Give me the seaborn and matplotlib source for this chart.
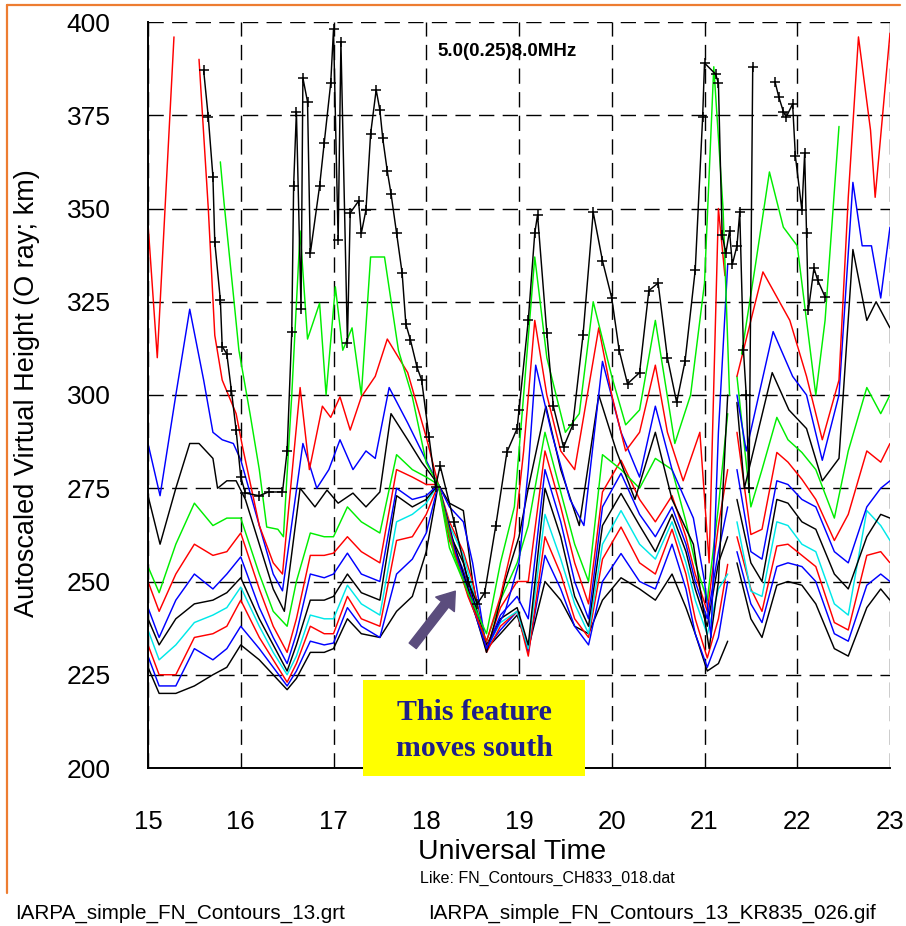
import numpy as np
import pandas as pd
import matplotlib
matplotlib.use("Agg")
import matplotlib.pyplot as plt
import seaborn as sns
from matplotlib import font_manager as fm
from matplotlib.patches import Rectangle, FancyArrowPatch
from matplotlib.lines import Line2D
from matplotlib.ticker import MultipleLocator

nan = float("nan")

# ---------------- data ----------------
FREQS = ["5.00", "5.25", "5.50", "5.75", "6.00", "6.25", "6.50", "6.75",
         "7.00", "7.25", "7.50", "7.75", "8.00"]
COLORS = ["#000000", "#0000ff", "#ff0000", "#00e8e8", "#000000", "#0000ff",
          "#ff0000", "#00ee00", "#000000", "#0000ff", "#ff0000", "#00ee00",
          "#000000"]

# shared hour grid for the eight lower contours
HOURS_LOW = [15.0, 15.12, 15.3, 15.5, 15.7, 15.85, 16.0, 16.2, 16.35, 16.5,
             16.6, 16.75, 16.9, 17.0, 17.15, 17.3, 17.5, 17.68, 17.85, 18.0,
             18.13, 18.25, 18.4, 18.5, 18.65, 18.8, 18.98, 19.1, 19.28, 19.45,
             19.6, 19.75, 19.9, 20.1, 20.3, 20.47, 20.65, 20.8, 20.9, 21.03,
             21.15, 21.25, 21.3, 21.35, 21.5, 21.62, 21.78, 21.9, 22.05, 22.2,
             22.4, 22.55, 22.75, 22.9, 23.0]

H500 = [227, 220, 220, 222, 225, 227, 233, 229, 225, 221, 224, 231, 231, 232, 240, 236, 235, 242, 246, 258,
        276, 271, 269, 250, 232, 236, 241, 232, 250, 245, 238, 236, 245, 251, 248, 245, 252, 243, 236, 226,
        228, 234, nan, 255, 240, 235, 249, 250, 249, 244, 232, 230, 243, 248, 245]
H525 = [230, 222, 222, 232, 229, 232, 238, 232, 227, 222, 226, 234, 233, 233.5, 243, 238, 235, 252, 256, 263,
        276, 270, 266, 255, 232, 237, 242, 231, 257, 248, 238, 233, 250, 257.5, 250, 248, 260, 248, 236, 227,
        235, 250, nan, 258, 244, 239, 254, 255, 254, 250, 236, 234, 249, 252, 250]
H550 = [233, 225, 225, 235, 236, 238, 245, 235, 229, 223, 228, 238, 236, 236, 246, 240, 238, 261, 262, 268,
        276, 266, 258, 250, 231, 238, 242, 230, 262, 252, 240, 235, 256, 264.6, 255, 252, 264, 252, 240, 229.5,
        240, 254.6, nan, 262, 248, 242, 259.5, 260, 257, 254, 239, 237, 257, 258, 255]
H575 = [237, 229, 233, 239, 241, 243, 248.5, 238, 231, 225, 230, 241, 240, 240, 249, 244, 241, 266, 268, 271,
        276, 265, 257, 248, 232, 239, 242, 232, 268, 256, 244, 236, 260, 269, 260, 256, 266, 255, 245, 235.8,
        248, 252, nan, 266, 247.4, 246, 266, 265, 260, 258, 244, 241, 269, 265, 261]
H600 = [240, 233, 240, 244, 245, 247, 251, 240, 233, 226, 233, 245, 245, 246, 252, 247, 245, 273, 270, 272,
        276, 263, 255, 246, 233, 240, 243, 233, 275, 262, 246, 238, 265, 273.6, 265, 258, 268, 258, 248, 238,
        255, 262, nan, 272, 255, 250, 272, 271, 266, 264, 252, 248, 262, 268, 267]
H625 = [243, 235, 245, 252, 248, 252, 256.6, 243, 235, 228, 236, 252, 251, 252, 257.6, 252, 250, 275, 272, 273,
        276, 262, 253, 245, 232, 241, 246, 240, 280, 266, 250, 240, 270, 279, 268, 262, 270, 260, 250, 240,
        258, 270, nan, 280, 258, 256, 277, 276, 272, 270, 258, 255, 270, 275, 277]
H650 = [250, 242, 252, 260, 257, 258, 263, 248, 238, 231, 240, 257, 257, 257.6, 262, 258, 255, 280, 278, 276,
        276, 261, 252, 244, 232, 243, 250, 250, 285, 270, 255, 244, 274, 282.5, 272, 266, 273, 262, 252, 242,
        265, 280, nan, 290, 262.6, 264, 284.6, 282, 277.4, 272, 261, 268, 285, 282, 287]
H675 = [254, 247, 260, 271, 265, 267, 267, 252, 242, 238, 250, 263, 262, 262, 270, 266, 263, 284, 280, 278,
        276, 259, 250, 243, 234, 245, 255, 265, 290, 274, 260, 250, 284, 280, 275, 283, 280, 266, 255, 245,
        270, 295, nan, 305, 270, 280, 294, 288, 284.6, 280, 267, 285, 302, 295, 300]

T700 = [15.0, 15.13, 15.3, 15.45, 15.55, 15.7, 15.75, 15.85, 15.95, 16.05, 16.2, 16.35, 16.47, 16.64, 16.8,
        16.93, 17.05, 17.21, 17.35, 17.5, 17.62, 17.8, 17.95, 18.13, 18.3, 18.45, 18.65, 18.75, 18.85, 19.0,
        19.1, 19.29, 19.45, 19.65, 19.86, 20.05, 20.25, 20.47, 20.65, 20.88, 21.05, 21.15, 21.25, 21.3, 21.35,
        21.43, 21.73, 21.91, 22.1, 22.27, 22.45, 22.6, 22.75, 22.85, 23.0]
H700 = [273, 260, 275, 287, 287, 283, 275, 277, 277, 272, 260, 248, 242, 275, 270,
        274.5, 271, 273.7, 270, 274, 295, 288, 282, 276, 260, 248, 231, 240, 250, 262,
        275, 297, 280, 265, 300, 285, 272, 290, 272, 260, 232, 250, 300, nan, 298,
        275, 306, 296, 291, 277, 283, 339, 320, 325, 318]

T725 = [15.0, 15.13, 15.3, 15.45, 15.6, 15.7, 15.8, 15.92, 16.0, 16.2, 16.35, 16.45, 16.67, 16.82, 16.95,
        17.07, 17.21, 17.35, 17.45, 17.6, 17.8, 17.98, 18.13, 18.3, 18.45, 18.65, 18.85, 19.0, 19.1, 19.18,
        19.35, 19.55, 19.7, 19.9, 20.1, 20.3, 20.47, 20.65, 20.88, 21.0, 21.07, 21.15, 21.25, 21.3, 21.35,
        21.45, 21.74, 21.95, 22.1, 22.27, 22.45, 22.6, 22.7, 22.8, 22.9, 23.0]
H725 = [287, 273, 300, 323, 304, 290, 288, 287, 282.6, 265, 252, 247.5, 287, 275, 280,
        288, 280, 285, 283, 302, 292.5, 283.4, 276, 259, 247, 232, 242, 255, 280, 308,
        290, 272, 265, 309, 290, 278, 297, 280, 267, 250, 235, 290, 335, nan, 300,
        285, 317, 305, 300, 282.5, 300, 357, 340, 340, 326, 345]

T750 = [15.0, 15.1, 15.28, 15.4, 15.55, 15.65, 15.72, 15.8, 15.95, 16.02, 16.2, 16.35, 16.45, 16.64, 16.74,
        16.88, 16.97, 17.07, 17.18, 17.3, 17.45, 17.58, 17.8, 18.0, 18.13, 18.3, 18.45, 18.65, 18.8, 18.95,
        19.05, 19.17, 19.3, 19.45, 19.6, 19.86, 20.0, 20.15, 20.3, 20.47, 20.6, 20.77, 20.95, 21.05, 21.15,
        21.22, 21.3, 21.35, 21.5, 21.63, 21.92, 22.1, 22.27, 22.45, 22.55, 22.66, 22.79, 22.84, 23.0]
H750 = [346, 310, 396, nan, 390, 350, 316, 304, 295, 286, 265, 255, 252, 302, 280,
        297, 294, 299.5, 290.6, 299.5, 305, 315, 306, 288.7, 276, 258, 246, 234, 246, 262,
        285, 320, 300, 285, 280, 318, 300, 285, 290, 308, 290, 277, 290, 255, 350,
        332, nan, 305, 320, 333, 320, 305, 288, 304, 353, 396, 371, 353, 397]

T775 = [15.78, 15.82, 15.92, 15.98, 16.1, 16.2, 16.28, 16.4, 16.46, 16.55, 16.64, 16.72, 16.85, 16.92, 17.02,
        17.1, 17.2, 17.3, 17.4, 17.55, 17.7, 17.85, 18.0, 18.13, 18.3, 18.45, 18.65, 18.8, 18.95, 19.05,
        19.17, 19.3, 19.5, 19.65, 19.8, 20.0, 20.15, 20.3, 20.47, 20.68, 20.85, 21.0, 21.1, 21.2, 21.27,
        21.3, 21.4, 21.55, 21.7, 21.85, 22.0, 22.1, 22.2, 22.3, 22.45]
H775 = [362.5, 351.5, 327, 312, 295, 280, 264.6, 264, 262, 300, 344, 315, 324.6, 300, 329,
        312, 318, 300, 337, 337, 312, 299.5, 281.8, 276, 257, 247, 236, 255, 270, 300,
        337, 310, 290, 295, 325, 305, 292, 296, 320, 287, 300, 330, 388, 350, 300,
        nan, 311, 335, 359.8, 345, 340, 320, 300, 320, 372]

T800 = [15.6, 15.65, 15.7, 15.72, 15.78, 15.8, 15.85, 15.9, 15.95, 16.0, 16.05, 16.2, 16.3, 16.45, 16.5,
        16.55, 16.57, 16.6, 16.65, 16.67, 16.72, 16.75, 16.85, 16.9, 16.97, 17.0, 17.05, 17.08, 17.15, 17.18,
        17.27, 17.3, 17.35, 17.4, 17.46, 17.5, 17.53, 17.58, 17.62, 17.68, 17.74, 17.78, 17.83, 17.9, 17.95,
        18.03, 18.1, 18.15, 18.3, 18.45, 18.55, 18.63, 18.75, 18.87, 18.98, 19.0, 19.1, 19.17, 19.2, 19.3,
        19.37, 19.48, 19.58, 19.69, 19.8, 19.9, 20.0, 20.08, 20.17, 20.3, 20.4, 20.5, 20.6, 20.7, 20.79,
        20.9, 20.98, 21.0, 21.12, 21.15, 21.19, 21.23, 21.27, 21.3, 21.35, 21.38, 21.42, 21.45, 21.48, 21.52,
        21.6, 21.76, 21.8, 21.85, 21.88, 21.95, 21.98, 22.05, 22.08, 22.1, 22.12, 22.18, 22.22, 22.3]
H800 = [387, 374.5, 358.5, 341, 325.5, 313, 311, 301, 290.6, 278, 273.7, 273, 274, 274, 285,
        317, 356, 376, 323, 385, 378.6, 338, 356, 367.6, 383.6, 398, 341.5, 394.6, 314, 348.8,
        352, 343.4, 349.6, 370, 381.8, 376.4, 369, 360, 354, 343.4, 332.7, 319, 314.7, 307.5, 304,
        288.7, 275.3, 281, 266, 250, 244, 247, 265, 284.7, 291, 296, 320, 343.4, 348.3, 316.6,
        297, 286, 292, 316, 349, 336, 326, 312, 303, 306, 328, 330, 310, 298, 309,
        333.5, 374.5, 389, 386, 383.6, 343, 338, 344, 335, 340, 349, 312, 300, 275, 388,
        nan, 384, 380, 376, 374.5, 378, 364, 349.6, 364.8, 343.4, 322.8, 334, 330.8, 326.3]

SERIES = [(HOURS_LOW, H500), (HOURS_LOW, H525), (HOURS_LOW, H550), (HOURS_LOW, H575),
          (HOURS_LOW, H600), (HOURS_LOW, H625), (HOURS_LOW, H650), (HOURS_LOW, H675),
          (T700, H700), (T725, H725), (T750, H750), (T775, H775), (T800, H800)]

X_TICKS = [15, 16, 17, 18, 19, 20, 21, 22, 23]
Y_TICKS = [200, 225, 250, 275, 300, 325, 350, 375, 400]

# ---------------- build long table (split at gaps) ----------------
rows = []
for f, (hx, hy) in zip(FREQS, SERIES):
    seg = 0
    for x, y in zip(hx, hy):
        if np.isnan(y):
            seg += 1
            continue
        rows.append((f, seg, x, y))
df = pd.DataFrame(rows, columns=["freq", "seg", "hour", "km"])

# ---------------- style ----------------
sns.set_style("white")
names = {f.name for f in fm.fontManager.ttflist}
NARROW = "Liberation Sans Narrow" if "Liberation Sans Narrow" in names else "Liberation Sans"
plt.rcParams["font.family"] = ["Liberation Sans", "DejaVu Sans"]

W, H = 906, 926
fig = plt.figure(figsize=(W / 100, H / 100), dpi=100)
fig.patch.set_facecolor("white")
L, R, T, B = 148, 890, 22, 768
ax = fig.add_axes([L / W, 1 - B / H, (R - L) / W, (B - T) / H])
ax.set_facecolor("white")

for i, f in enumerate(FREQS):
    d = df[df["freq"] == f]
    kw = dict(color=COLORS[i], linewidth=1.05)
    if f == "8.00":
        kw.update(marker="+", markersize=7, markeredgewidth=1.1, markeredgecolor="black")
    sns.lineplot(data=d, x="hour", y="km", units="seg", estimator=None, sort=False,
                 ax=ax, legend=False, zorder=2 + i * 0.01, **kw)

ax.set_xlim(15, 23)
ax.set_ylim(200, 400)
ax.set_xticks(X_TICKS)
ax.set_yticks(Y_TICKS)
ax.xaxis.set_minor_locator(MultipleLocator(0.5))
ax.yaxis.set_minor_locator(MultipleLocator(12.5))
ax.grid(True, which="major", color="black", linestyle=(0, (11, 6)), linewidth=1.0)
ax.set_axisbelow(True)
for s in ["top", "right"]:
    ax.spines[s].set_visible(False)
for s in ["left", "bottom"]:
    ax.spines[s].set_color("black")
    ax.spines[s].set_linewidth(1.4)

ax.tick_params(axis="y", which="major", length=18, width=1.0, direction="out", pad=9,
               labelsize=19, colors="black")
ax.tick_params(axis="y", which="minor", length=9, width=1.0, direction="out")
ax.tick_params(axis="x", which="major", length=19.5, width=1.0, direction="out", pad=11,
               labelsize=18.5, colors="black")
ax.tick_params(axis="x", which="minor", length=9, width=1.0, direction="out")
ax.set_xticklabels([str(v) for v in X_TICKS])
for lab in ax.get_xticklabels():
    lab.set_fontfamily(NARROW)
ax.set_yticklabels([str(v) for v in Y_TICKS])

ax.set_xlabel("Universal Time", fontfamily=NARROW, fontsize=20.5, color="black")
ax.xaxis.set_label_coords((512 - L) / (R - L), (B - 852) / (B - T))
ax.xaxis.label.set_va("center")
ax.set_ylabel("Autoscaled Virtual Height (O ray; km)", fontfamily=NARROW, fontsize=19.5,
              color="black")
ax.yaxis.set_label_coords((27 - L) / (R - L), (B - 393) / (B - T))
ax.yaxis.label.set_va("center")

def fx(px):
    return px / W

def fy(py):
    return 1 - py / H

fig.text(fx(507), fy(52), "5.0(0.25)8.0MHz", ha="center", va="center",
         fontsize=13.5, fontweight="bold", color="black")

# annotation box and arrow
fig.add_artist(Rectangle((fx(363), fy(776)), (585 - 363) / W, (776 - 680) / H,
                         transform=fig.transFigure, facecolor="#ffff00",
                         edgecolor="none", zorder=10))
for txt, py in [("This feature", 712), ("moves south", 748)]:
    fig.text(fx(474), fy(py), txt, ha="center", va="center", fontsize=21.5,
             fontweight="bold", color="#1f1f8a", zorder=11,
             family=["Liberation Serif", "DejaVu Serif"])
fig.add_artist(FancyArrowPatch((fx(411), fy(648)), (fx(457), fy(589)),
                               transform=fig.transFigure,
                               arrowstyle="simple,head_length=1.2,head_width=1.7,tail_width=0.65",
                               mutation_scale=10, color="#5b4d7d", zorder=11))

# footer texts
fig.text(fx(547), fy(878), "Like: FN_Contours_CH833_018.dat", ha="center", va="center",
         fontsize=11.5, family=NARROW, color="black")
fig.text(fx(15), fy(913), "IARPA_simple_FN_Contours_13.grt", ha="left", va="center",
         fontsize=14.9, family=NARROW, color="black")
fig.text(fx(428), fy(913), "IARPA_simple_FN_Contours_13_KR835_026.gif", ha="left",
         va="center", fontsize=14.9, family=NARROW, color="black")

# orange frame of the slide
fig.add_artist(Line2D([fx(7), fx(7)], [fy(893), fy(5)], transform=fig.transFigure,
                      color="#ed7d31", linewidth=1.6))
fig.add_artist(Line2D([fx(7), fx(900)], [fy(5), fy(5)], transform=fig.transFigure,
                      color="#ed7d31", linewidth=1.6))

fig.savefig("out.png", dpi=100)
